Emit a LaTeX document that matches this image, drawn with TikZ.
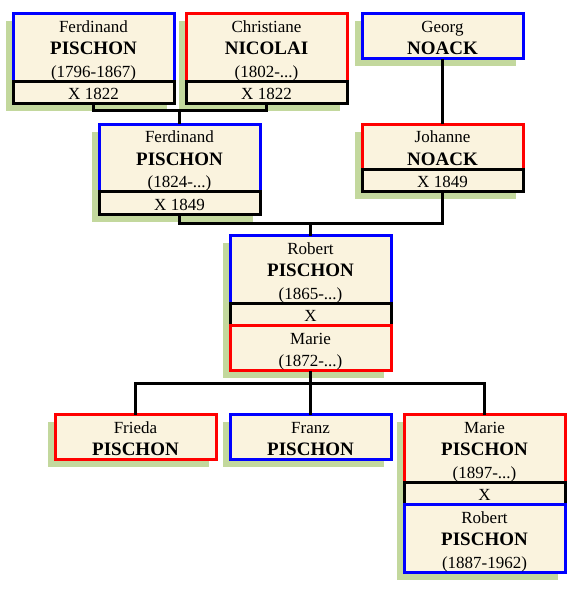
\documentclass[tikz,border=0pt]{standalone}
\usepackage{fontspec}
\setmainfont{Liberation Serif}
\usepackage{xcolor}
\usepackage{tikz}
\usetikzlibrary{positioning, shadows}

\definecolor{boxfill}{RGB}{250,243,222}
\definecolor{leafshade}{RGB}{195,216,157}
\newcommand{\famname}[1]{{\fontsize{19}{22.5}\selectfont\bfseries #1}}
% fixed top and bottom of a card's text
\newcommand{\hi}{\rule{0pt}{18.5pt}}
\newcommand{\lo}{\rule[-4pt]{0pt}{4pt}}

\begin{document}
\begin{tikzpicture}[
  x=1pt, y=-1pt,
  person/.style={rectangle, fill=boxfill, line width=3pt, outer sep=0pt,
                 minimum width=161pt, inner xsep=4pt, inner ysep=0pt, align=center,
                 font=\fontsize{17}{22.5}\selectfont,
                 drop shadow={shadow xshift=-7.5pt, shadow yshift=-7.5pt,
                              fill=leafshade, opacity=1}},
  manbox/.style={person, draw=blue},
  womanbox/.style={person, draw=red},
  wedbox/.style={person, draw=black},
  link/.style={line width=3pt}
]
\useasboundingbox (0,0) rectangle (570,590);

% first generation
\node[manbox, anchor=north] (ferd1) at (93.5,13.5)
  {\hi Ferdinand\\\famname{PISCHON}\\(1796-1867)\lo};
\node[wedbox, below=0pt of ferd1] (ferd1x) {\hi X 1822\lo};
\node[womanbox, anchor=north] (christ) at (266.5,13.5)
  {\hi Christiane\\\famname{NICOLAI}\\(1802-...)\lo};
\node[wedbox, below=0pt of christ] (christx) {\hi X 1822\lo};
\node[manbox, anchor=north] (georg) at (442.5,13.5)
  {\hi Georg\\\famname{NOACK}\lo};

% second generation
\node[manbox, anchor=north] (ferd2) at (179.5,124)
  {\hi Ferdinand\\\famname{PISCHON}\\(1824-...)\lo};
\node[wedbox, below=0pt of ferd2] (ferd2x) {\hi X 1849\lo};
\node[womanbox, anchor=north] (johanne) at (442.5,124)
  {\hi Johanne\\\famname{NOACK}\lo};
\node[wedbox, below=0pt of johanne] (johannex) {\hi X 1849\lo};

% third generation
\node[manbox, anchor=north] (robert) at (310.5,235.5)
  {\hi Robert\\\famname{PISCHON}\\(1865-...)\lo};
\node[wedbox, below=0pt of robert] (robertx) {\hi X\lo};
\node[womanbox, below=0pt of robertx] (marie) {\hi Marie\\(1872-...)\lo};

% children
\node[womanbox, anchor=north] (frieda) at (135.5,414.5)
  {\hi Frieda\\\famname{PISCHON}\lo};
\node[manbox, anchor=north] (franz) at (310.5,414.5)
  {\hi Franz\\\famname{PISCHON}\lo};
\node[womanbox, anchor=north] (marie2) at (484.5,414.5)
  {\hi Marie\\\famname{PISCHON}\\(1897-...)\lo};
\node[wedbox, below=0pt of marie2] (marie2x) {\hi X\lo};
\node[manbox, below=0pt of marie2x] (robert2)
  {\hi Robert\\\famname{PISCHON}\\(1887-1962)\lo};

% lines
\draw[link] (ferd1x.south) -- ++(0,6.5) coordinate (m1) -| (christx.south);
\draw[link] (ferd2.north) -- (ferd2.north |- m1);
\draw[link] (georg.south) -- (johanne.north);
\draw[link] (ferd2x.south) -- ++(0,9) coordinate (m2) -| (johannex.south);
\draw[link] (robert.north) -- (robert.north |- m2);
\draw[link] (marie.south) -- ++(0,12.5) coordinate (m3);
\draw[link] (frieda.north) |- (m3) -| (marie2.north);
\draw[link] (franz.north) -- (franz.north |- m3);
\end{tikzpicture}
\end{document}
